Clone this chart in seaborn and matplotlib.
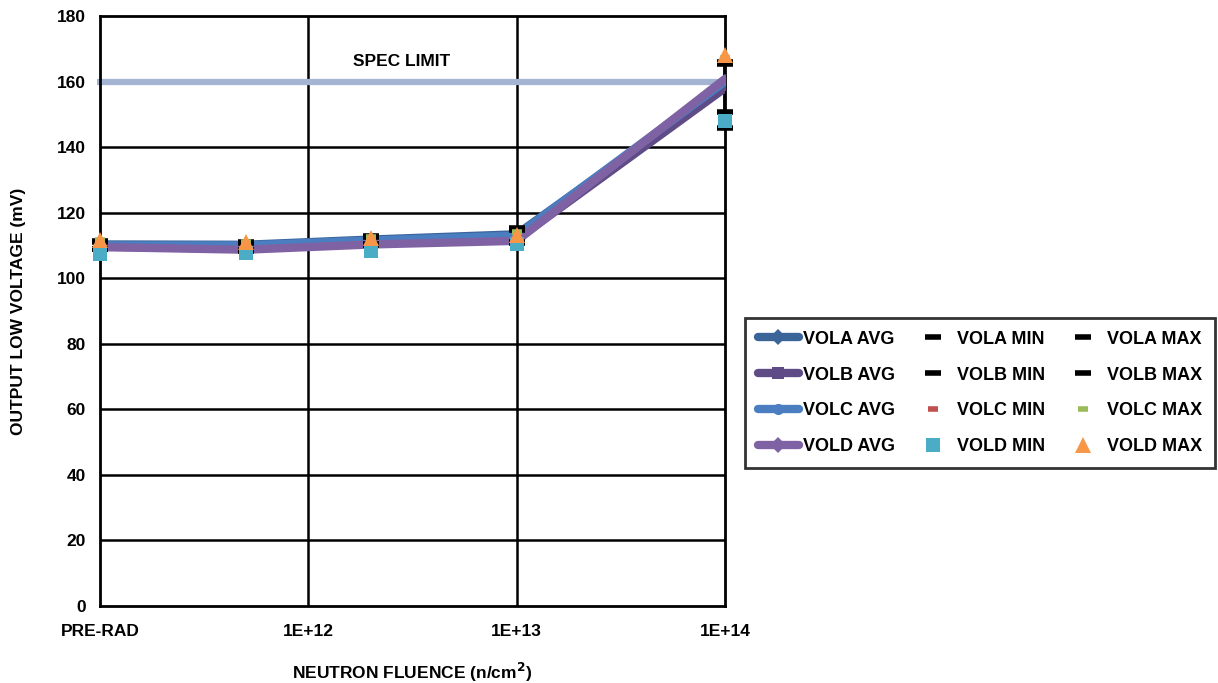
import numpy as np
import pandas as pd
import matplotlib
matplotlib.use("Agg")
import matplotlib.pyplot as plt
import seaborn as sns

# Neutron fluence positions (log10 of n/cm^2); pre-rad is drawn at the 1E+11 slot
fluence_log = [11.0, np.log10(5e11), np.log10(2e12), 13.0, 14.0]
tick_pos = [11, 12, 13, 14]
tick_labels = ["PRE-RAD", "1E+12", "1E+13", "1E+14"]

vola_avg = [110.3, 110.2, 111.8, 113.4, 159.0]
volb_avg = [109.6, 109.0, 110.6, 111.8, 158.0]
volc_avg = [110.0, 110.0, 111.5, 113.0, 160.0]
vold_avg = [109.5, 108.7, 110.3, 111.4, 160.8]

vola_min = [109.0, 108.5, 110.5, 111.0, 150.8]
volb_min = [108.8, 108.3, 110.2, 110.8, 145.8]
volc_min = [108.9, 108.5, 110.3, 111.0, 148.5]
vold_min = [107.4, 107.7, 108.3, 110.3, 148.1]

vola_max = [111.3, 111.0, 112.8, 115.2, 166.0]
volb_max = [111.0, 110.8, 112.5, 114.8, 165.3]
volc_max = [111.6, 111.2, 112.6, 114.0, 167.2]
vold_max = [111.8, 110.9, 112.4, 113.2, 168.1]

spec_limit = 160

sns.set_theme(style="white")
plt.rcParams["font.family"] = ["Liberation Sans", "DejaVu Sans"]
plt.rcParams["font.weight"] = "bold"
for key in ["text.color", "axes.labelcolor", "xtick.color", "ytick.color"]:
    plt.rcParams[key] = "black"
FS = 12.5

fig = plt.figure(figsize=(12.18, 6.83), dpi=100)
ax = fig.add_axes([100 / 1218, 1 - 606 / 683, 625 / 1218, 590 / 683])

# grid
for y in range(20, 180, 20):
    ax.axhline(y, color="black", lw=1.8, zorder=1)
for x in [12, 13]:
    ax.axvline(x, color="black", lw=1.8, zorder=1)

# spec limit
ax.plot([10.985, 14.0], [spec_limit, spec_limit], color="#A4B4D3", lw=4.5,
        zorder=2, clip_on=False, solid_capstyle="butt")
ax.text(12.45, 166, "SPEC LIMIT", ha="center", va="center",
        fontsize=FS, fontweight="bold")

avg_series = [
    ("VOLA AVG", vola_avg, "#3B6499", "D"),
    ("VOLB AVG", volb_avg, "#5F4B86", "s"),
    ("VOLC AVG", volc_avg, "#4A7EC1", "o"),
    ("VOLD AVG", vold_avg, "#7F62A4", "D"),
]
min_series = [
    ("VOLA MIN", vola_min, "black", "_"),
    ("VOLB MIN", volb_min, "black", "_"),
    ("VOLC MIN", volc_min, "#C0504D", "_"),
    ("VOLD MIN", vold_min, "#4BACC6", "s"),
]
max_series = [
    ("VOLA MAX", vola_max, "black", "_"),
    ("VOLB MAX", volb_max, "black", "_"),
    ("VOLC MAX", volc_max, "#9BBB59", "_"),
    ("VOLD MAX", vold_max, "#F79646", "^"),
]

# high-low span of the black min/max markers
lo = np.minimum(vola_min, volb_min)
hi = np.maximum(vola_max, volb_max)
ax.vlines(fluence_log, lo, hi, color="black", lw=3.5, zorder=3)

handles = {}
for name, vals, col, mk in avg_series:
    df = pd.DataFrame({"x": fluence_log, "y": vals})
    sns.lineplot(data=df, x="x", y="y", ax=ax, color=col, lw=6, marker=mk,
                 markersize=5, markeredgewidth=0, zorder=4, legend=False)
    handles[name] = plt.Line2D([], [], color=col, lw=6, marker=mk,
                               markersize=8, markeredgewidth=0)


def marker_style(col, mk):
    if mk == "_":
        size = 11 if col == "black" else 7
        return dict(marker="_", markersize=size, markeredgewidth=4,
                    markeredgecolor=col, color=col, linestyle="none")
    size = 10 if mk == "s" else 11
    return dict(marker=mk, markersize=size, markeredgewidth=0,
                color=col, linestyle="none")


for name, vals, col, mk in min_series + max_series:
    st = marker_style(col, mk)
    ax.plot(fluence_log, vals, zorder=5, clip_on=False, **st)
    handles[name] = plt.Line2D([], [], **st)

ax.set_xlim(11, 14)
ax.set_ylim(0, 180)
ax.set_xticks(tick_pos)
ax.set_xticklabels(tick_labels)
ax.set_yticks(range(0, 181, 20))
ax.tick_params(axis="both", length=0, labelsize=FS)
ax.tick_params(axis="x", pad=13)
ax.tick_params(axis="y", pad=10)
for lab in ax.get_xticklabels() + ax.get_yticklabels():
    lab.set_fontweight("bold")
for sp in ax.spines.values():
    sp.set_color("black")
    sp.set_linewidth(2)
ax.set_xlabel("NEUTRON FLUENCE (n/cm$^\\mathbf{2}$)", fontsize=FS,
              fontweight="bold", labelpad=16)
ax.set_ylabel("OUTPUT LOW VOLTAGE (mV)", fontsize=FS, fontweight="bold",
              labelpad=22)

order = [n for n, *_ in avg_series] + [n for n, *_ in min_series] + \
        [n for n, *_ in max_series]
leg = fig.legend([handles[n] for n in order], order, ncol=3,
                 loc="center", bbox_to_anchor=(980 / 1218, 1 - 393 / 683),
                 frameon=True, fancybox=False, edgecolor="black",
                 prop={"size": 13, "weight": "bold"}, handlelength=2.3,
                 handletextpad=0.2, columnspacing=0.95, labelspacing=1.05,
                 borderpad=0.7)
leg.get_frame().set_linewidth(2)

fig.savefig("out.png", dpi=100, facecolor="white")
